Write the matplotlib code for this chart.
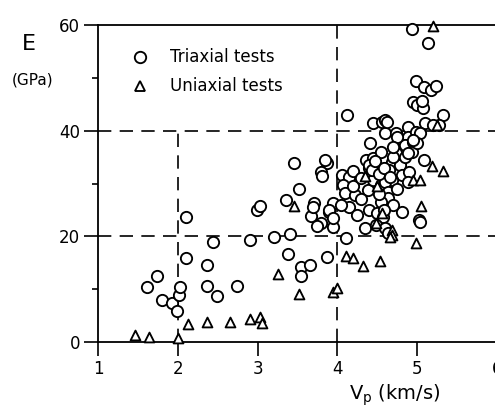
import matplotlib
matplotlib.use("Agg")
import matplotlib.pyplot as plt
from matplotlib.ticker import MultipleLocator

# Vp (km/s) and E (GPa) for the triaxial tests
tri_vp = [1.61, 1.74, 1.80, 1.93, 1.99, 2.02, 2.03, 2.10, 2.10, 2.37, 2.36, 2.49, 2.44, 2.74, 2.90,
          2.99, 3.03, 3.21, 3.41, 3.38, 3.35, 3.45, 3.52, 3.55, 3.55, 3.66, 3.87, 3.71, 3.67, 3.79,
          3.89, 3.95, 3.95, 3.87, 3.79, 3.81, 4.11, 4.12, 3.85, 3.89, 3.94, 3.70, 3.75,
          4.06, 4.14, 4.20, 4.07, 4.10, 4.22, 4.38, 4.45, 4.55, 4.39, 4.50, 4.57, 4.35, 4.48,
          4.39, 4.48, 4.41, 4.36, 4.44, 4.41, 4.45, 4.56, 4.60, 4.20, 4.30, 4.15, 4.25, 4.05, 4.30,
          4.94, 5.13, 4.99, 5.08, 5.17, 5.24, 4.95, 5.00, 5.07, 5.06, 5.32, 5.10, 5.27, 4.60,
          4.88, 4.73, 4.88, 4.85, 4.95, 4.73, 4.69, 4.79, 4.85, 4.94, 5.08, 4.81, 4.90, 4.89,
          4.69, 4.60, 4.60, 4.63, 4.63, 4.81, 5.02, 4.60, 4.64, 5.04, 4.98, 5.04, 5.00, 4.70,
          4.88, 4.95, 5.20, 4.62, 4.75, 4.70, 4.55, 4.65, 4.75, 4.55, 4.70, 4.52, 4.58,
          4.40, 4.43, 4.47, 4.52, 4.58, 4.66]
tri_e = [10.4, 12.5, 7.9, 7.4, 5.9, 8.9, 10.4, 15.9, 23.7, 14.6, 10.6, 8.7, 18.9, 10.6, 19.4,
         25.0, 25.8, 19.9, 20.4, 16.6, 26.9, 33.9, 29.0, 14.2, 12.5, 14.6, 16.1, 26.3, 23.9, 22.5,
         24.6, 26.3, 21.8, 33.9, 32.2, 31.4, 19.7, 43.0, 34.5, 25.0, 23.5, 25.5, 22.0,
         31.6, 31.3, 32.3, 29.7, 28.2, 27.8, 28.8, 30.7, 29.7, 25.0, 24.4, 23.7, 21.6, 22.2,
         33.0, 33.5, 33.9, 34.5, 34.8, 37.7, 41.4, 41.7, 39.6, 29.5, 31.0, 25.5, 24.0, 26.0, 27.0,
         59.2, 56.6, 49.4, 48.2, 47.8, 48.5, 45.5, 44.9, 44.3, 45.6, 43.0, 41.4, 41.0, 42.0,
         40.7, 39.6, 38.8, 37.3, 37.9, 35.8, 34.1, 33.5, 35.0, 36.0, 34.5, 31.6, 32.2, 30.3,
         30.7, 32.2, 30.3, 28.4, 27.3, 24.6, 23.1, 21.6, 20.6, 22.7, 39.8, 39.6, 37.7, 35.0,
         35.8, 38.3, 41.1, 41.7, 38.8, 37.0, 36.0, 32.5, 29.0, 26.5, 26.0, 28.0, 25.0,
         33.6, 32.6, 34.2, 31.8, 33.0, 31.2]

# Vp (km/s) and E (GPa) for the uniaxial tests
uni_vp = [1.46, 1.64, 2.00, 2.13, 2.37, 2.66, 2.91, 3.03, 3.06, 3.26, 3.45, 3.52, 3.95, 4.00,
          4.11, 4.19, 4.32, 4.54, 4.69, 4.69, 4.99, 5.05, 5.20, 5.25, 5.19, 5.32, 4.95, 5.03,
          4.48, 4.56, 4.66, 4.50, 4.35]
uni_e = [1.3, 0.9, 0.8, 3.4, 3.8, 3.8, 4.4, 4.8, 3.6, 12.8, 25.8, 9.0, 9.4, 10.2,
         16.3, 15.9, 14.4, 15.3, 21.2, 20.3, 18.7, 25.8, 59.8, 41.0, 33.3, 32.3, 30.7, 30.7,
         22.5, 24.4, 19.9, 29.5, 31.5]

xticks = [1, 2, 3, 4, 5, 6]
yticks = [0, 20, 40, 60]

plt.rcParams['font.family'] = 'DejaVu Sans'
fig = plt.figure(figsize=(4.95, 4.12), dpi=100)
# axes run past the right edge of the figure, so the "6" is cut off
ax = fig.add_axes([0.198, 0.170, 0.806, 0.769])

dash = (0, (8, 5))
ax.hlines([20, 40], 1, 6, colors='black', linestyles=dash, linewidth=1.2)
ax.vlines(2, 0, 40, colors='black', linestyles=dash, linewidth=1.2)
ax.vlines(4, 0, 60, colors='black', linestyles=dash, linewidth=1.2)

ax.scatter(tri_vp, tri_e, s=66, marker='o', facecolors='white', edgecolors='black',
           linewidths=1.35, zorder=3, clip_on=False)
ax.scatter(uni_vp, uni_e, s=50, marker='^', facecolors='white', edgecolors='black',
           linewidths=1.35, zorder=4, clip_on=False)

ax.set_xlim(1, 6)
ax.set_ylim(0, 60)
ax.set_xticks(xticks)
ax.set_yticks(yticks)
ax.yaxis.set_minor_locator(MultipleLocator(10))
ax.tick_params(axis='both', which='major', direction='out', length=10, width=1.2,
               labelsize=12, pad=3)
ax.tick_params(axis='y', which='minor', direction='out', length=4, width=1.2)
ax.spines['right'].set_visible(False)
for side in ['left', 'bottom', 'top']:
    ax.spines[side].set_linewidth(1.3)

# legend drawn by hand
ax.plot([0.105], [0.898], marker='o', ms=8.2, mfc='white', mec='black', mew=1.35,
        transform=ax.transAxes, clip_on=False)
ax.text(0.18, 0.898, 'Triaxial tests', fontsize=12, va='center', transform=ax.transAxes)
ax.plot([0.105], [0.808], marker='^', ms=7.5, mfc='white', mec='black', mew=1.35,
        transform=ax.transAxes, clip_on=False)
ax.text(0.18, 0.808, 'Uniaxial tests', fontsize=12, va='center', transform=ax.transAxes)

fig.text(0.058, 0.893, 'E', fontsize=16, ha='center', va='center')
fig.text(0.066, 0.806, '(GPa)', fontsize=11, ha='center', va='center')
fig.text(0.705, 0.04, r'V$_{\mathrm{p}}$ (km/s)', fontsize=14, ha='left', va='center')

fig.savefig('out.png', dpi=100)
